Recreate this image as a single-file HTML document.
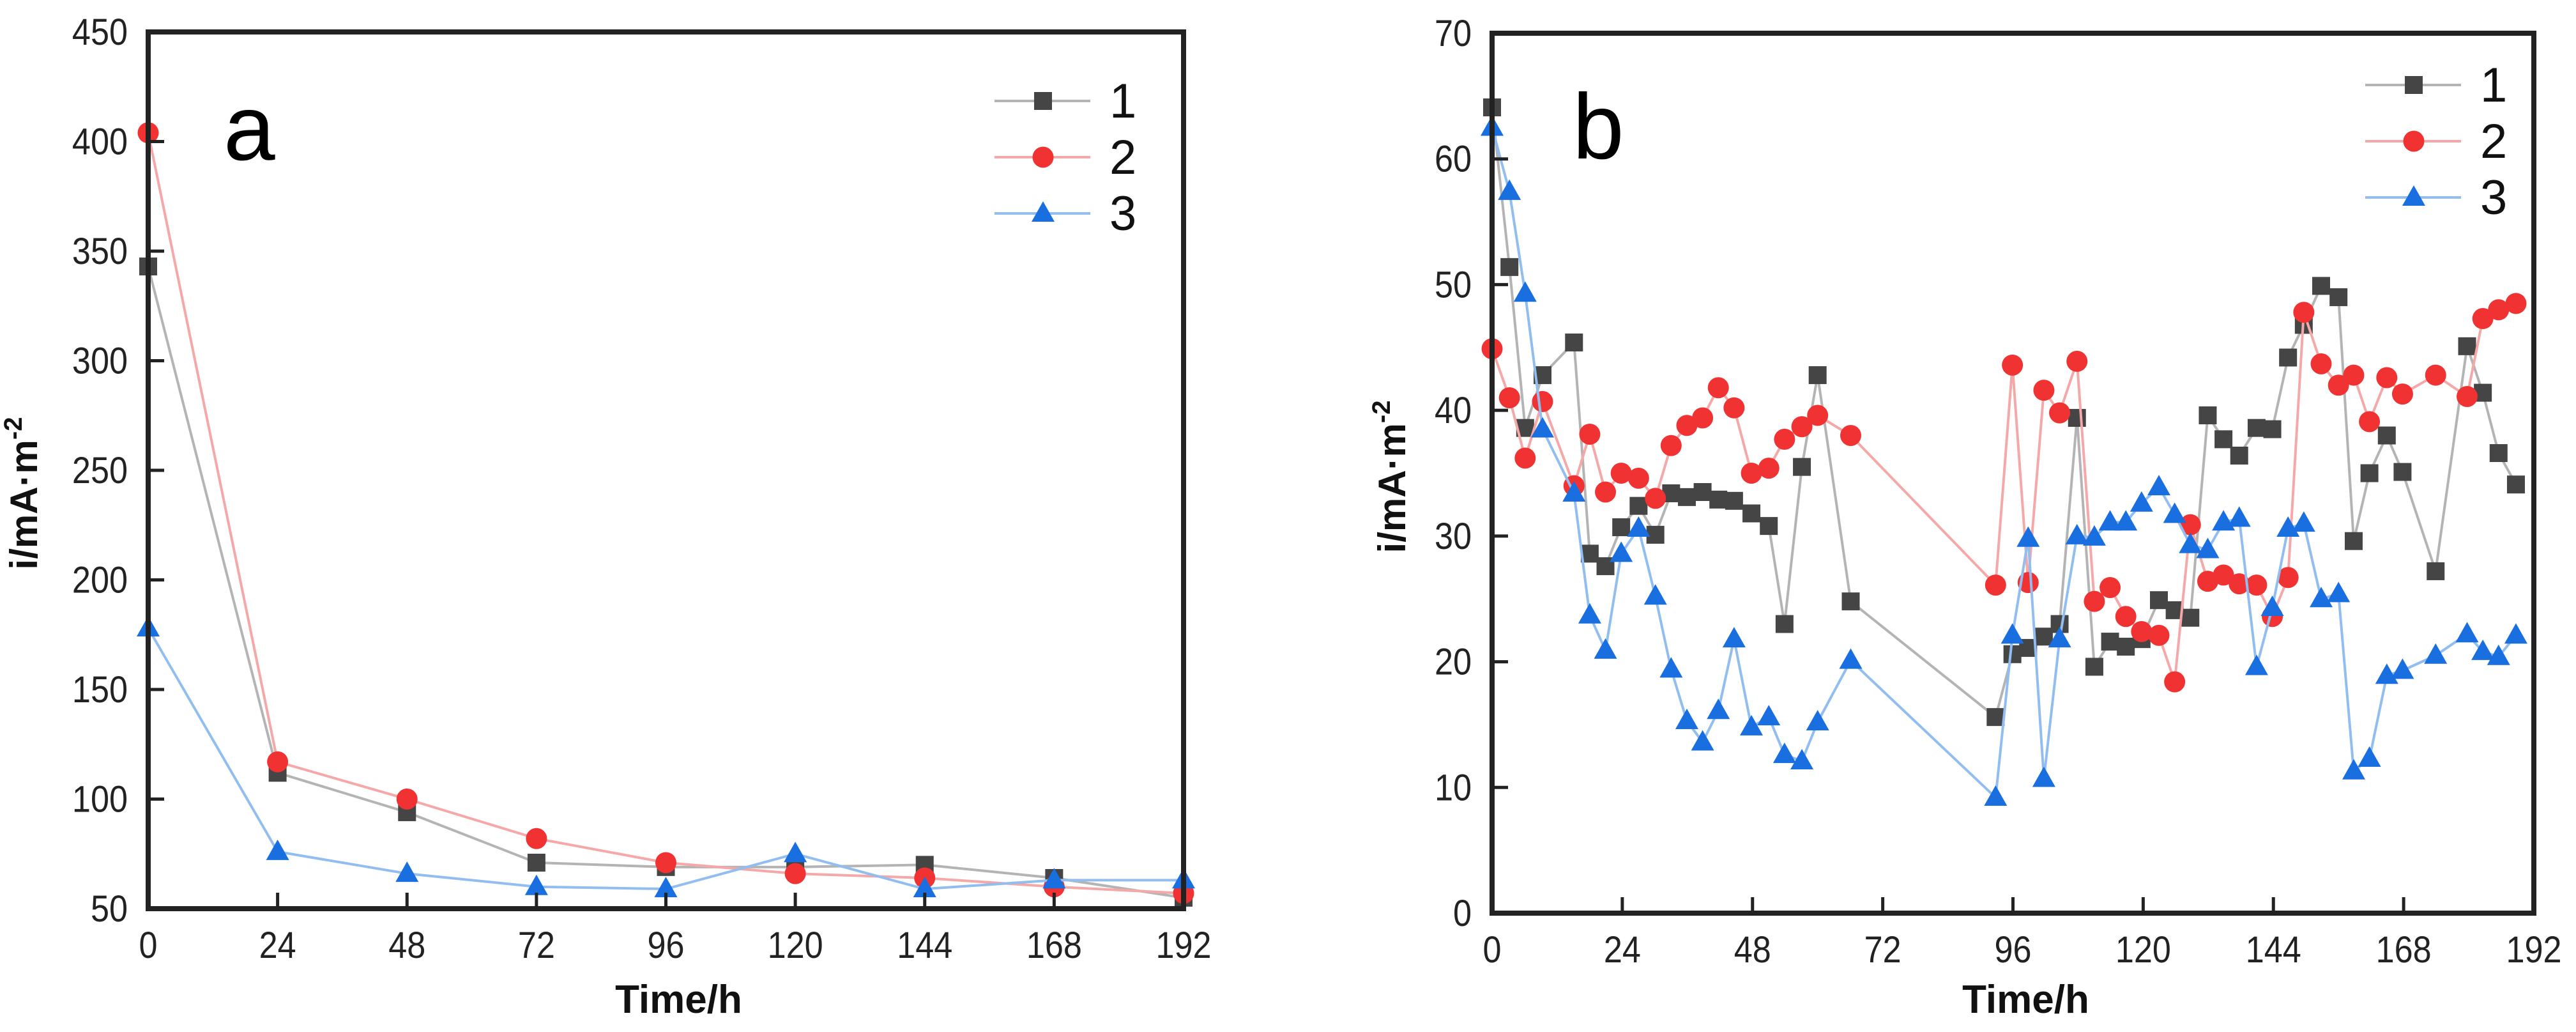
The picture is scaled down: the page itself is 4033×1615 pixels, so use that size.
<!DOCTYPE html>
<html><head><meta charset="utf-8"><style>
html,body{margin:0;padding:0;background:#fff;}
svg{display:block;font-family:"Liberation Sans",Arial,sans-serif;}
</style></head><body>
<svg id="fig" width="4033" height="1615" viewBox="0 0 4033 1615" xmlns="http://www.w3.org/2000/svg"></svg>
<script>
// ---- Chart a data ----
const timesA = [0,24,48,72,96,120,144,168,192];
const a1 = [343,112,94,71,69,69,70,64,55];
const a2 = [404,117,100,82,71,66,64,60,57];
const a3 = [178,76,66,60,59,75,59,63,63];
const yTicksA = [50,100,150,200,250,300,350,400,450];
const xTicks = [0,24,48,72,96,120,144,168,192];
// ---- Chart b data ----
const timesB = [0,3.2,6.1,9.3,15.1,18,20.9,23.8,27,30.1,33,35.9,38.8,41.7,44.6,47.8,51,53.9,57.1,60,66.1,92.8,95.9,98.8,101.7,104.6,107.8,111,113.9,116.8,119.7,122.9,125.8,128.7,131.9,134.8,137.7,140.9,143.8,146.7,149.6,152.8,156,158.8,161.7,164.9,167.8,173.9,179.7,182.6,185.5,188.7];
const b1 = [64.1,51.4,38.6,42.8,45.4,28.6,27.6,30.7,32.4,30.1,33.4,33.1,33.5,32.9,32.8,31.8,30.8,23.0,35.5,42.8,24.8,15.6,20.6,21.1,22.0,23.0,39.4,19.6,21.6,21.2,21.8,24.9,24.1,23.5,39.6,37.7,36.4,38.6,38.5,44.2,46.8,49.9,49.0,29.6,35.0,38.0,35.1,27.2,45.1,41.4,36.6,34.1];
const b2 = [44.9,41.0,36.2,40.7,34.0,38.1,33.5,35.0,34.6,33.0,37.2,38.8,39.4,41.8,40.2,35.0,35.4,37.7,38.7,39.6,38.0,26.1,43.6,26.3,41.6,39.8,43.9,24.8,25.9,23.6,22.4,22.1,18.4,30.9,26.4,26.9,26.2,26.1,23.6,26.7,47.8,43.7,42.0,42.8,39.1,42.6,41.3,42.8,41.1,47.3,48.0,48.5];
const b3 = [62.5,57.4,49.3,38.5,33.4,23.7,20.9,28.6,30.6,25.2,19.4,15.3,13.6,16.1,21.8,14.8,15.6,12.6,12.1,15.2,20.1,9.2,22.1,29.8,10.7,21.8,30.0,29.9,31.1,31.1,32.6,33.9,31.7,29.3,28.9,31.1,31.4,19.6,24.3,30.6,31.0,25.0,25.4,11.3,12.3,18.9,19.3,20.5,22.2,20.8,20.4,22.1];
const yTicksB = [0,10,20,30,40,50,60,70];
const seriesNames = ['1','2','3'];

const NS='http://www.w3.org/2000/svg';
const svg=document.getElementById('fig');
function el(tag,attrs,parent){const e=document.createElementNS(NS,tag);for(const k in attrs)e.setAttribute(k,attrs[k]);(parent||svg).appendChild(e);return e;}
const styles=[
 {line:'#b4b4b4',fill:'#454545',shape:'square'},
 {line:'#f5a8a8',fill:'#f03232',shape:'circle'},
 {line:'#92bdf0',fill:'#1a6fe0',shape:'tri'}];
function marker(g,shape,x,y,fill){
  let m;
  if(shape==='square'){m=el('rect',{x:x-14,y:y-14,width:28,height:28,fill:fill},g);}
  else if(shape==='circle'){m=el('circle',{cx:x,cy:y,r:16.5,fill:fill},g);}
  else {m=el('polygon',{points:`${x},${y-19} ${x+18},${y+13} ${x-18},${y+13}`,fill:fill},g);}
  return m;
}
function chart(id,L,R,T,B,ymin,ymax,yTicks,times,series,label,lx,ly,legX,legY,ylabX,ylabY){
  const g=el('g',{});
  
  
  const sx=t=>L+(t-0)/192*(R-L);
  const sy=v=>B-(v-ymin)/(ymax-ymin)*(B-T);
  // plot lines
  series.forEach((vals,si)=>{
    const sg=el('g',{},g);
    
    
    const pts=vals.map((v,i)=>sx(times[i])+','+sy(v)).join(' ');
    const pl=el('polyline',{points:pts,fill:'none',stroke:styles[si].line,'stroke-width':4},sg);
    
    
    vals.forEach((v,i)=>{
      const m=marker(sg,styles[si].shape,sx(times[i]),sy(v),styles[si].fill);
      
      
    });
  });
  // frame
  const fr=el('rect',{x:L,y:T,width:R-L,height:B-T,fill:'none',stroke:'#222','stroke-width':8},g);
  
  
  // x ticks
  xTicks.forEach(t=>{
    const x=sx(t);
    el('line',{x1:x,y1:B,x2:x,y2:B-25,stroke:'#222','stroke-width':5},g);
    const tx=el('text',{x:x,y:B+77,'font-size':58,'text-anchor':'middle',fill:'#222',transform:`translate(${x},0) scale(0.9,1) translate(${-x},0)`},g);
    tx.textContent=t;
    
    
  });
  yTicks.forEach(v=>{
    const y=sy(v);
    el('line',{x1:L,y1:y,x2:L+25,y2:y,stroke:'#222','stroke-width':5},g);
    const tx=el('text',{x:L-32,y:y+20,'font-size':58,'text-anchor':'end',fill:'#222',transform:`translate(${L-32},0) scale(0.9,1) translate(${-(L-32)},0)`},g);
    tx.textContent=v;
    
    
  });
  const xt=el('text',{x:(L+R)/2+20,y:1585,'font-size':62,'font-weight':'bold','text-anchor':'middle',fill:'#111'},g);
  xt.textContent='Time/h';
  
  
  const yt=el('text',{x:ylabX,y:ylabY,'font-size':60,'font-weight':'bold','text-anchor':'middle',fill:'#111',transform:`rotate(-90 ${ylabX} ${ylabY})`},g);
  yt.innerHTML='i/mA·m<tspan dy="-24" font-size="40">-2</tspan>';
  
  
  const pl=el('text',{x:lx,y:ly,'font-size':145,fill:'#000'},g);
  pl.textContent=label;
  
  
  seriesNames.forEach((n,i)=>{
    const y=legY+i*88;
    const lg=el('g',{},g);
    
    
    el('line',{x1:legX,y1:y,x2:legX+150,y2:y,stroke:styles[i].line,'stroke-width':4},lg);
    marker(lg,styles[i].shape,legX+76,y,styles[i].fill);
    const t=el('text',{x:legX+180,y:y+26,'font-size':76,fill:'#111'},lg);
    t.textContent=n;
  });
}
chart('a',232,1853,50,1422,50,450,yTicksA,timesA,[a1,a2,a3],'a',350,250,1557,158,58,772);
chart('b',2336,3967,52,1429,0,70,yTicksB,timesB,[b1,b2,b3],'b',2462,248,3703,133,2200,746);
</script>
</body></html>
